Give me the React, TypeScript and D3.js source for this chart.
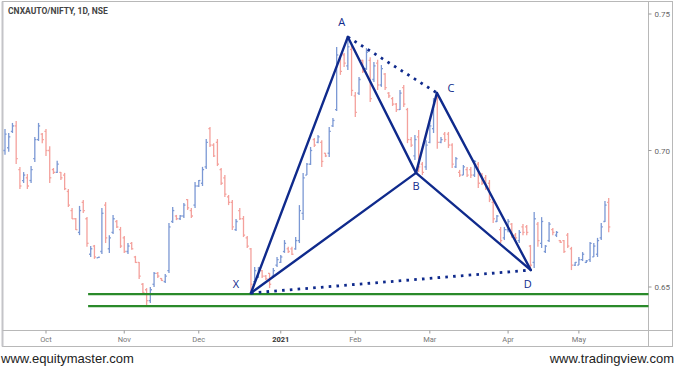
import React from "react";
import * as d3 from "d3";

// OHLC values, one per trading day (mid-Sep 2020 .. mid-May 2021)
const ohlc: [number, number, number, number][] = [
  [0.700, 0.7079, 0.6984, 0.706], [0.701, 0.7064, 0.6995, 0.705], [0.707, 0.7101, 0.7064, 0.709], [0.709, 0.7108, 0.6951, 0.697],
  [0.693, 0.6940, 0.6859, 0.687], [0.689, 0.6921, 0.6881, 0.691], [0.690, 0.6914, 0.6859, 0.687], [0.689, 0.6943, 0.6881, 0.693],
  [0.697, 0.7049, 0.6958, 0.704], [0.704, 0.7101, 0.7035, 0.709], [0.706, 0.7064, 0.7027, 0.704], [0.707, 0.7079, 0.6980, 0.700],
  [0.700, 0.7016, 0.6881, 0.690], [0.693, 0.6936, 0.6914, 0.692], [0.692, 0.6962, 0.6918, 0.695], [0.692, 0.6921, 0.6892, 0.690],
  [0.691, 0.6918, 0.6855, 0.686], [0.685, 0.6859, 0.6793, 0.680], [0.678, 0.6789, 0.6749, 0.675], [0.675, 0.6753, 0.6709, 0.671],
  [0.670, 0.6797, 0.6690, 0.678], [0.681, 0.6819, 0.6771, 0.678], [0.675, 0.6756, 0.6647, 0.666], [0.662, 0.6650, 0.6610, 0.664],
  [0.665, 0.6654, 0.6603, 0.661], [0.6607, 0.6610, 0.6606, 0.6609], [0.663, 0.6789, 0.6621, 0.677], [0.680, 0.6811, 0.6661, 0.668],
  [0.664, 0.6690, 0.6625, 0.668], [0.670, 0.6764, 0.6694, 0.675], [0.674, 0.6745, 0.6716, 0.672], [0.671, 0.6720, 0.6643, 0.665],
  [0.668, 0.6687, 0.6625, 0.663], [0.663, 0.6661, 0.6621, 0.665], [0.666, 0.6665, 0.6636, 0.664], [0.661, 0.6614, 0.6588, 0.659],
  [0.659, 0.6592, 0.6529, 0.654], [0.651, 0.6515, 0.6471, 0.648], [0.649, 0.6496, 0.6434, 0.645], [0.645, 0.6500, 0.6441, 0.649],
  [0.651, 0.6555, 0.6500, 0.655], [0.655, 0.6555, 0.6533, 0.654], [0.6531, 0.6533, 0.6522, 0.6524], [0.652, 0.6548, 0.6515, 0.654],
  [0.656, 0.6734, 0.6551, 0.672], [0.674, 0.6793, 0.6734, 0.678], [0.676, 0.6764, 0.6745, 0.675], [0.675, 0.6764, 0.6745, 0.676],
  [0.676, 0.6808, 0.6753, 0.680], [0.682, 0.6822, 0.6782, 0.679], [0.678, 0.6789, 0.6753, 0.676], [0.680, 0.6885, 0.6789, 0.687],
  [0.687, 0.6892, 0.6866, 0.689], [0.688, 0.6940, 0.6870, 0.693], [0.694, 0.7042, 0.6932, 0.703], [0.708, 0.7086, 0.7013, 0.702],
  [0.702, 0.7027, 0.6976, 0.698], [0.703, 0.7042, 0.6943, 0.695], [0.693, 0.6936, 0.6874, 0.688], [0.690, 0.6910, 0.6830, 0.684],
  [0.683, 0.6837, 0.6800, 0.681], [0.681, 0.6819, 0.6709, 0.672], [0.671, 0.6749, 0.6705, 0.674], [0.678, 0.6789, 0.6745, 0.675],
  [0.675, 0.6760, 0.6683, 0.669], [0.668, 0.6687, 0.6643, 0.665], [0.664, 0.6643, 0.6485, 0.651], [0.652, 0.6573, 0.6518, 0.656],
  [0.654, 0.6573, 0.6533, 0.657], [0.656, 0.6562, 0.6533, 0.654], [0.654, 0.6544, 0.6526, 0.653], [0.655, 0.6551, 0.6496, 0.651],
  [0.654, 0.6570, 0.6533, 0.656], [0.658, 0.6610, 0.6573, 0.660], [0.659, 0.6617, 0.6588, 0.661], [0.663, 0.6672, 0.6625, 0.666],
  [0.664, 0.6647, 0.6625, 0.663], [0.664, 0.6647, 0.6617, 0.662], [0.664, 0.6683, 0.6636, 0.667], [0.667, 0.6800, 0.6661, 0.678],
  [0.677, 0.6918, 0.6745, 0.690], [0.691, 0.6954, 0.6910, 0.695], [0.695, 0.7013, 0.6947, 0.700], [0.704, 0.7046, 0.7013, 0.702],
  [0.703, 0.7057, 0.7027, 0.705], [0.703, 0.7038, 0.6940, 0.696], [0.699, 0.6991, 0.6976, 0.698], [0.699, 0.7086, 0.6976, 0.707],
  [0.709, 0.7119, 0.7086, 0.711], [0.715, 0.7379, 0.7145, 0.735], [0.734, 0.7350, 0.7277, 0.729], [0.735, 0.7357, 0.7306, 0.732],
  [0.731, 0.7416, 0.7295, 0.738], [0.737, 0.7386, 0.7200, 0.722], [0.720, 0.7214, 0.7123, 0.714], [0.721, 0.7269, 0.7203, 0.726],
  [0.733, 0.7332, 0.7284, 0.729], [0.730, 0.7375, 0.7295, 0.736], [0.733, 0.7342, 0.7178, 0.719], [0.726, 0.7324, 0.7251, 0.731],
  [0.732, 0.7332, 0.7222, 0.724], [0.724, 0.7313, 0.7233, 0.730], [0.728, 0.7284, 0.7222, 0.723], [0.721, 0.7214, 0.7192, 0.720],
  [0.719, 0.7196, 0.7163, 0.717], [0.717, 0.7174, 0.7141, 0.715], [0.715, 0.7222, 0.7148, 0.721], [0.723, 0.7240, 0.7159, 0.717],
  [0.715, 0.7156, 0.7027, 0.704], [0.704, 0.7049, 0.7013, 0.702], [0.698, 0.7057, 0.6965, 0.704], [0.705, 0.7075, 0.6921, 0.694],
  [0.695, 0.6958, 0.6910, 0.692], [0.694, 0.7038, 0.6929, 0.702], [0.703, 0.7101, 0.7027, 0.709], [0.708, 0.7192, 0.7064, 0.717],
  [0.719, 0.7211, 0.7006, 0.703], [0.703, 0.7049, 0.7027, 0.704], [0.706, 0.7068, 0.7031, 0.704], [0.706, 0.7068, 0.7009, 0.702],
  [0.702, 0.7027, 0.6936, 0.695], [0.694, 0.6976, 0.6936, 0.697], [0.692, 0.6929, 0.6903, 0.691], [0.691, 0.6947, 0.6910, 0.694],
  [0.693, 0.6940, 0.6903, 0.691], [0.693, 0.6940, 0.6899, 0.691], [0.691, 0.6965, 0.6903, 0.696], [0.695, 0.6958, 0.6863, 0.688],
  [0.691, 0.6918, 0.6874, 0.688], [0.690, 0.6910, 0.6855, 0.687], [0.688, 0.6892, 0.6811, 0.682], [0.681, 0.6819, 0.6734, 0.675],
  [0.674, 0.6764, 0.6738, 0.676], [0.671, 0.6720, 0.6661, 0.667], [0.668, 0.6720, 0.6672, 0.671], [0.671, 0.6749, 0.6701, 0.674],
  [0.673, 0.6734, 0.6680, 0.669], [0.669, 0.6698, 0.6672, 0.668], [0.667, 0.6709, 0.6661, 0.670], [0.672, 0.6731, 0.6690, 0.670],
  [0.672, 0.6727, 0.6690, 0.670], [0.665, 0.6654, 0.6562, 0.658], [0.659, 0.6775, 0.6570, 0.675], [0.673, 0.6738, 0.6647, 0.667],
  [0.666, 0.6756, 0.6643, 0.674], [0.663, 0.6654, 0.6625, 0.665], [0.667, 0.6738, 0.6665, 0.673], [0.671, 0.6716, 0.6690, 0.670],
  [0.669, 0.6705, 0.6683, 0.670], [0.667, 0.6672, 0.6661, 0.6664], [0.667, 0.6672, 0.6625, 0.663], [0.669, 0.6698, 0.6643, 0.665],
  [0.664, 0.6647, 0.6562, 0.658], [0.658, 0.6592, 0.6577, 0.659], [0.658, 0.6610, 0.6581, 0.660], [0.660, 0.6628, 0.6595, 0.662],
  [0.659, 0.6599, 0.6588, 0.6596], [0.660, 0.6665, 0.6592, 0.666], [0.661, 0.6661, 0.6610, 0.665], [0.662, 0.6680, 0.6610, 0.667],
  [0.668, 0.6734, 0.6672, 0.672], [0.674, 0.6815, 0.6738, 0.680], [0.681, 0.6826, 0.6701, 0.672],
];

// time axis
const timeLabels = ["Oct", "Nov", "Dec", "2021", "Feb", "Mar", "Apr", "May"];
const timeIndex = [11, 32, 52, 74, 94, 114, 135, 154];

// price axis
const priceTicks = [0.65, 0.7, 0.75];

// harmonic pattern points (bar index, price)
const patternNames = ["X", "A", "B", "C", "D"];
const patternIndex = [66, 92, 110.3, 115.9, 141.1];
const patternPrice = [0.6478, 0.7416, 0.6918, 0.7211, 0.6562];

// horizontal support lines
const supportLevels = [0.6474, 0.643];
const supportStartIndex = 22.3;

const W = 675;
const H = 368;
const FRAME_L = 2.5, FRAME_T = 1.5, FRAME_R = 672.5, FRAME_B = 346.5;
const PRICE_AXIS_X = 648.5;
const TIME_AXIS_Y = 330.5;

const x = d3.scaleLinear().domain([0, ohlc.length - 1]).range([5, 608.7]);
const y = d3.scaleLinear().domain([0.65, 0.75]).range([287, 14]);

const NAVY = "#0f2a8c";
const UP = "#7b98d4";
const DOWN = "#f4a19c";
const GREEN = "#2a8a2a";

export default function App() {
  const pts = patternIndex.map((d, i) => [x(d), y(patternPrice[i])] as [number, number]);
  const [X, A, B, C, D] = pts;
  const line = d3.line();
  const solid: [number, number][][] = [[X, A], [A, B], [B, C], [C, D], [X, B], [B, D]];
  const dotted: [number, number][][] = [[A, C], [X, D]];
  const labelOffsets: [number, number][] = [[-15, -9], [-6, -15], [0, 13], [14, -5], [-3, 14]];

  return (
    <svg width={W} height={H} style={{ position: "absolute", left: 0, top: 0, background: "#fff" }}
      fontFamily="Roboto, 'Open Sans', sans-serif">
      <rect x={0} y={0} width={W} height={H} fill="#fff" />
      {/* frame */}
      <rect x={FRAME_L} y={FRAME_T} width={FRAME_R - FRAME_L} height={FRAME_B - FRAME_T} fill="none" stroke="#b8b8b8" strokeWidth={1} />
      <line x1={FRAME_L} x2={FRAME_L} y1={FRAME_T} y2={FRAME_B} stroke="#c4c4c8" strokeWidth={2} />
      <line x1={PRICE_AXIS_X} x2={PRICE_AXIS_X} y1={FRAME_T} y2={FRAME_B} stroke="#b8b8b8" />
      <line x1={FRAME_L} x2={FRAME_R} y1={TIME_AXIS_Y} y2={TIME_AXIS_Y} stroke="#b8b8b8" />

      {/* title */}
      <text x={8} y={14} fontSize={8.5} fontWeight={700} fill="#444">CNXAUTO/NIFTY, 1D, NSE</text>

      {/* price axis */}
      {priceTicks.map((p) => (
        <g key={p}>
          <line x1={PRICE_AXIS_X} x2={PRICE_AXIS_X + 3} y1={y(p)} y2={y(p)} stroke="#999" />
          <text x={PRICE_AXIS_X + 6} y={y(p) + 3} fontSize={8} fill="#666">{p.toFixed(2)}</text>
        </g>
      ))}

      {/* time axis */}
      {timeLabels.map((t, i) => (
        <g key={t}>
          <line x1={x(timeIndex[i])} x2={x(timeIndex[i])} y1={TIME_AXIS_Y} y2={TIME_AXIS_Y + 3} stroke="#999" />
          <text x={x(timeIndex[i])} y={TIME_AXIS_Y + 11.5} fontSize={7.5} textAnchor="middle"
            fill={t === "2021" ? "#333" : "#777"} fontWeight={t === "2021" ? 700 : 400}>{t}</text>
        </g>
      ))}

      {/* OHLC bars */}
      {ohlc.map(([o, h, l, c], i) => {
        const cx = x(i);
        const col = c >= o ? UP : DOWN;
        return (
          <g key={i} stroke={col} strokeWidth={1.3}>
            <line x1={cx} x2={cx} y1={y(h)} y2={y(l)} />
            <line x1={cx - 1.6} x2={cx} y1={y(o)} y2={y(o)} />
            <line x1={cx} x2={cx + 1.6} y1={y(c)} y2={y(c)} />
          </g>
        );
      })}

      {/* support lines */}
      {supportLevels.map((s) => (
        <line key={s} x1={x(supportStartIndex)} x2={PRICE_AXIS_X} y1={y(s)} y2={y(s)} stroke={GREEN} strokeWidth={2.3} />
      ))}

      {/* pattern */}
      {solid.map((seg, i) => (
        <path key={"s" + i} d={line(seg) || ""} stroke={NAVY} strokeWidth={2.4} fill="none" strokeLinecap="round" />
      ))}
      {dotted.map((seg, i) => (
        <path key={"d" + i} d={line(seg) || ""} stroke={NAVY} strokeWidth={2.8} fill="none" strokeDasharray="2.6 5.2" />
      ))}
      {patternNames.map((n, i) => (
        <text key={n} x={pts[i][0] + labelOffsets[i][0]} y={pts[i][1] + labelOffsets[i][1] + 4} fontSize={11}
          textAnchor="middle" fill={NAVY} fontFamily="'Open Sans', sans-serif">{n}</text>
      ))}

      {/* footer */}
      <text x={1} y={363} fontSize={13} fill="#222" fontFamily="'Liberation Sans', Arial, sans-serif">www.equitymaster.com</text>
      <text x={674} y={363} fontSize={13} fill="#222" textAnchor="end" fontFamily="'Liberation Sans', Arial, sans-serif">www.tradingview.com</text>
    </svg>
  );
}
